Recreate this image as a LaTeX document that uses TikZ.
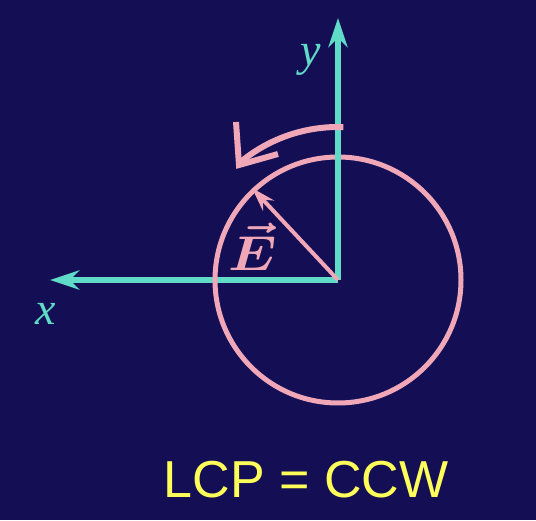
\documentclass[tikz,border=0pt]{standalone}
\usepackage{fontspec}
\usepackage{bm}
\setmainfont{Liberation Serif}
\newfontfamily\labelsans{Liberation Sans}
\usetikzlibrary{arrows.meta,calc}
\definecolor{bgnavy}{RGB}{20,14,85}
\definecolor{axcyan}{RGB}{96,219,200}
\definecolor{pinkc}{RGB}{240,168,184}
\definecolor{yel}{RGB}{255,255,90}
\tikzset{
  axis/.style={draw=axcyan, line width=5.5pt, -{Stealth[length=29pt,width=19pt,inset=9pt]}},
  pinkline/.style={draw=pinkc, line width=5pt},
  axlabel/.style={text=axcyan, font=\fontsize{46}{46}\selectfont\itshape, inner sep=0pt},
}
\begin{document}
\begin{tikzpicture}[x=1pt,y=1pt]
\path[fill=bgnavy, use as bounding box] (0,0) rectangle (536,520);
\coordinate (O) at (338,240);
\coordinate (xe) at (50,240);
\coordinate (ye) at (338,502);
% x axis, circle, y axis
\draw[axis] (O) -- (xe);
\draw[pinkline] (O) circle[radius=123];
\draw[axis] (O) -- (ye);
\node[axlabel] (xl) at (46,206) {x};
\node[axlabel] (yl) at (311,460) {y};
% E vector
\coordinate (Et) at (252,332);
\draw[pinkline, line width=4pt, -{Stealth[length=24pt,width=15pt,inset=8pt]}] (O) -- (Et);
\node[text=pinkc, inner sep=0pt] (El) at (253,273) {\scalebox{5.6}[4.9]{$\bm{\vec{E}}$}};
% rotation arrow
\coordinate (As) at ($(O)+(88:153)$);
\draw[pinkline, line width=6pt] (As) arc[start angle=88, end angle=130, radius=153] coordinate (Ae);
\coordinate (B1) at (236,398);
\coordinate (B2) at (278,366);
\draw[pinkline, line width=6pt, line join=miter] (B1) -- (239,355) -- (B2);
% caption
\node[text=yel, inner sep=0pt, font=\labelsans\fontsize{52}{52}\selectfont] (cap) at (306,40) {LCP = CCW};
\end{tikzpicture}
\end{document}
